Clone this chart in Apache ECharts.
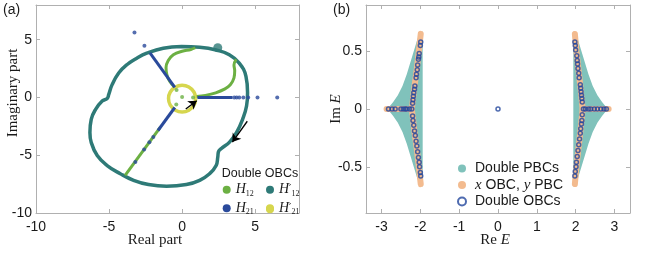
<!DOCTYPE html>
<html><head><meta charset="utf-8">
<script src="https://cdn.jsdelivr.net/npm/echarts@6.0.0/dist/echarts.min.js"></script>
<style>html,body{margin:0;padding:0;background:#fff}#c{width:664px;height:254px}</style>
</head><body><div id="c"></div><script>
// ---------- Panel (a) data ----------
const ticksA = [-10, -5, 0, 5];
const loopH12p = [[-0.04,4.4],[1.2,4.34],[2.33,4.11],[3.23,3.69],[3.91,2.97],[4.37,1.83],[4.48,0.4],[4.41,-0.74],[4.14,-1.89],[3.73,-3.03],[3.23,-3.89],[2.74,-4.37],[2.49,-4.69],[2.44,-5.17],[2.33,-5.89],[1.88,-6.6],[1.2,-7.17],[0.29,-7.54],[-1.06,-7.69],[-2.3,-7.54],[-3.32,-7.17],[-4.23,-6.6],[-5.13,-5.89],[-5.81,-5.03],[-6.22,-3.89],[-6.31,-3.03],[-6.22,-1.89],[-5.92,-1.03],[-5.47,-0.31],[-5.13,-0.09],[-5.02,0.26],[-4.79,1.11],[-4.34,2.11],[-3.78,2.83],[-3.1,3.4],[-2.42,3.83],[-1.29,4.26],[-0.04,4.4]];
const blobH12p = [[2.44,4.3]];
const ringH21p = [[0.93,-0.1],[0.81,0.47],[0.46,0.9],[0,1.05],[-0.46,0.9],[-0.81,0.47],[-0.93,-0.1],[-0.81,-0.67],[-0.46,-1.1],[0,-1.25],[0.46,-1.1],[0.81,-0.67],[0.93,-0.1]];
const greenUpper = [[0.9,4.3],[0.6,4.15],[0.0,4.0],[-0.6,3.7],[-0.95,3.2],[-1.1,2.6],[-1.05,2.0],[-0.85,1.4],[-0.55,0.95]];
const greenRight = [[1.0,0.08],[1.6,0.18],[2.3,0.4],[2.9,0.72],[3.3,1.1],[3.55,1.7],[3.6,2.3],[3.55,2.8],[3.7,3.3]];
const greenRay = [[-1.5,-2.6],[-3.9,-6.75]];
const greenDots = [[-0.38,0.65],[0,0.03],[0.75,0],[-0.4,-0.6]];
const blueRayUL = [[-0.5,0.87],[-2.2,3.85]];
const blueRayR = [[1.05,0],[3.45,0]];
const blueRayLL = [[-0.5,-0.87],[-1.65,-2.86]];
const blueDots = [[-2.58,4.48],[-3.26,5.63],[3.57,0],[3.73,0],[3.91,0],[4.19,0],[4.52,0],[5.16,0],[6.51,0],[-1.97,-3.42],[-2.24,-3.88],[-2.6,-4.5],[-3.2,-5.58]];
const arrowBig = [[4.46,-2.06],[3.44,-3.86]];
const arrowSmall = [[0.25,-1.0],[1.0,-0.28]];

// ---------- Panel (b) data ----------
const ticksBx = [-3, -2, -1, 0, 1, 2, 3];
const ticksBy = [-0.5, 0, 0.5];
const pbcRight = [[1.94,0.67],[1.99,0.66],[2.06,0.6],[2.15,0.5],[2.24,0.4],[2.33,0.3],[2.44,0.2],[2.56,0.12],[2.68,0.06],[2.78,0.02],[2.86,0],[2.78,-0.02],[2.68,-0.06],[2.56,-0.12],[2.44,-0.2],[2.33,-0.3],[2.24,-0.4],[2.15,-0.5],[2.06,-0.6],[1.99,-0.66],[1.94,-0.67]];
const pbcLeft = [[-1.94,0.67],[-2.0,0.66],[-2.08,0.6],[-2.17,0.5],[-2.26,0.4],[-2.35,0.3],[-2.46,0.2],[-2.58,0.12],[-2.7,0.06],[-2.8,0.02],[-2.88,0],[-2.8,-0.02],[-2.7,-0.06],[-2.58,-0.12],[-2.46,-0.2],[-2.35,-0.3],[-2.26,-0.4],[-2.17,-0.5],[-2.08,-0.6],[-2.0,-0.66],[-1.94,-0.67]];
const xobcRight = [[1.98,0.65],[2.02,0.5],[2.07,0.35],[2.12,0.2],[2.18,0],[2.12,-0.2],[2.07,-0.35],[2.02,-0.5],[1.98,-0.65]];
const xobcRightArm = [[2.18,0],[2.85,0]];
const xobcLeft = [[-1.99,0.65],[-2.04,0.5],[-2.09,0.35],[-2.15,0.2],[-2.22,0],[-2.15,-0.2],[-2.09,-0.35],[-2.04,-0.5],[-1.99,-0.65]];
const xobcLeftArm = [[-2.22,0],[-2.87,0]];
const dobc = [
 [1.98,0.58],[1.99,0.55],[2.0,0.51],[2.03,0.46],[2.04,0.42],[2.05,0.39],[2.06,0.35],[2.08,0.31],[2.09,0.27],[2.12,0.21],[2.13,0.18],[2.14,0.15],[2.15,0.12],[2.16,0.09],[2.17,0.06],
 [2.17,-0.05],[2.16,-0.1],[2.15,-0.13],[2.13,-0.17],[2.12,-0.21],[2.1,-0.26],[2.08,-0.31],[2.06,-0.36],[2.04,-0.41],[2.02,-0.46],[2.01,-0.5],[1.99,-0.54],[1.98,-0.58],
 [2.2,0],[2.25,0],[2.33,0],[2.39,0],[2.48,0],[2.56,0],[2.65,0],[2.73,0],[2.79,0],
 [-1.99,0.58],[-2.0,0.55],[-2.03,0.48],[-2.04,0.45],[-2.05,0.43],[-2.07,0.38],[-2.08,0.34],[-2.1,0.3],[-2.11,0.27],[-2.14,0.2],[-2.15,0.17],[-2.17,0.14],[-2.18,0.11],[-2.19,0.08],[-2.2,0.05],
 [-2.2,-0.06],[-2.19,-0.1],[-2.17,-0.14],[-2.15,-0.19],[-2.13,-0.23],[-2.11,-0.28],[-2.09,-0.32],[-2.07,-0.37],[-2.05,-0.42],[-2.03,-0.46],[-2.02,-0.5],[-2.0,-0.55],[-1.99,-0.58],
 [-2.22,0],[-2.28,0],[-2.35,0],[-2.39,0],[-2.44,0],[-2.5,0],[-2.65,0],[-2.73,0],[-2.82,0],
 [0,0]
];

const TEAL = '#2e7a77', GREEN = '#6cb043', BLUE = '#2a4a9b', YEL = '#d6d64e';
const TEAL2 = '#80c2bb', ORANGE = '#f3bb8f', BLUE2 = '#22469c';
const AX = '#b0b0b0';
const SANS = 'Liberation Sans', SERIF = 'Liberation Serif';

function axis(grid, min, max, ticks, pos, lab, isY) {
  return {
    type: 'value', gridIndex: grid, min: min, max: max, position: pos,
    splitLine: {show: false},
    axisLine: {show: true, onZero: false, lineStyle: {color: AX, width: 1}},
    axisTick: {show: true, inside: true, length: 4, customValues: ticks, lineStyle: {color: AX}},
    axisLabel: {show: lab, customValues: ticks, color: '#1a1a1a', fontFamily: SANS, fontSize: 14, margin: isY ? 4 : 7}
  };
}

const richH = {
  h: {fontFamily: SERIF, fontStyle: 'italic', fontSize: 14, color: '#1a1a1a', lineHeight: 16},
  q: {fontFamily: 'DejaVu Sans', fontSize: 10, color: '#1a1a1a', lineHeight: 16},
  s: {fontFamily: SERIF, fontSize: 8, color: '#1a1a1a', lineHeight: 16, verticalAlign: 'bottom'}
};
const hLabel = {H12: '{h|H}{s|12}', H12p: '{h|H}{q|\u2032}{s|12}', H21: '{h|H}{s|21}', H21p: '{h|H}{q|\u2032}{s|21}'};
function legA(name, color, left, top) {
  return {data: [name], icon: 'circle', itemStyle: {color: color, borderWidth: 0}, left: left, top: top, padding: 0,
    itemWidth: 8, itemHeight: 8, selectedMode: false, formatter: n => hLabel[n], textStyle: {rich: richH}};
}

const chart = echarts.init(document.getElementById('c'), null, {renderer: 'canvas'});
const option = {
  animation: false,
  grid: [{left: 36, top: 5, width: 263, height: 208}, {left: 366, top: 5, width: 264, height: 208}],
  xAxis: [axis(0, -10, 8, ticksA, 'bottom', true, false), axis(0, -10, 8, ticksA, 'top', false, false),
          axis(1, -3.4, 3.4, ticksBx, 'bottom', true, false), axis(1, -3.4, 3.4, ticksBx, 'top', false, false)],
  yAxis: [axis(0, -10, 8, ticksA, 'left', true, true), axis(0, -10, 8, ticksA, 'right', false, true),
          axis(1, -0.9, 0.9, ticksBy, 'left', true, true), axis(1, -0.9, 0.9, ticksBy, 'right', false, true)],
  legend: [
    legA('H12', GREEN, 222.7, 182.7), legA('H12p', TEAL, 266, 182.7),
    legA('H21', BLUE, 222.7, 201.3), legA('H21p', YEL, 266, 201.3),
    {orient: 'vertical', left: 457, top: 161.5, padding: 0, itemGap: 2, itemWidth: 16, itemHeight: 8, selectedMode: false,
     data: [{name: 'Double PBCs', icon: 'circle', itemStyle: {color: TEAL2, borderWidth: 0}},
            {name: 'xOBC', icon: 'circle', itemStyle: {color: ORANGE, borderWidth: 0}},
            {name: 'Double OBCs', icon: 'circle', itemStyle: {color: '#fff', borderColor: BLUE2, borderWidth: 2}}],
     formatter: n => n === 'xOBC' ? '{i|x}{t| OBC, }{i|y}{t| PBC}' : '{t|' + n + '}',
     textStyle: {rich: {
       t: {fontFamily: SANS, fontSize: 14, color: '#1a1a1a', lineHeight: 16},
       i: {fontFamily: SERIF, fontStyle: 'italic', fontSize: 15, color: '#1a1a1a', lineHeight: 16}}}}
  ],
  graphic: [
    {type: 'circle', z: 100, shape: {cx: 270, cy: 209.3, r: 4}, style: {fill: YEL}},
    {type: 'text', x: 3, y: 10, style: {text: '(a)', font: '14px "Liberation Sans"', fill: '#1a1a1a', verticalAlign: 'middle'}},
    {type: 'text', x: 333, y: 10, style: {text: '(b)', font: '14px "Liberation Sans"', fill: '#1a1a1a', verticalAlign: 'middle'}},
    {type: 'text', x: 155, y: 240, style: {text: 'Real part', font: '15px "Liberation Serif"', fill: '#1a1a1a', align: 'center', verticalAlign: 'middle'}},
    {type: 'text', x: 13, y: 93, rotation: Math.PI / 2, style: {text: 'Imaginary part', font: '15px "Liberation Serif"', fill: '#1a1a1a', align: 'center', verticalAlign: 'middle'}},
    {type: 'text', x: 495, y: 240, style: {text: '{r|Re }{i|E}', align: 'center', verticalAlign: 'middle',
      rich: {r: {font: '15px "Liberation Serif"', fill: '#1a1a1a'}, i: {font: 'italic 15px "Liberation Serif"', fill: '#1a1a1a'}}}},
    {type: 'text', x: 336, y: 109, rotation: Math.PI / 2, style: {text: '{r|Im }{i|E}', align: 'center', verticalAlign: 'middle',
      rich: {r: {font: '15px "Liberation Serif"', fill: '#1a1a1a'}, i: {font: 'italic 15px "Liberation Serif"', fill: '#1a1a1a'}}}},
    {type: 'text', x: 260, y: 174, style: {text: 'Double OBCs', font: '12.5px "Liberation Sans"', fill: '#1a1a1a', align: 'center', verticalAlign: 'middle'}}
  ],
  series: [
    {name: 'H12p', type: 'line', xAxisIndex: 0, yAxisIndex: 0, data: loopH12p, showSymbol: false, smooth: 0.45, z: 2,
     lineStyle: {color: TEAL, width: 3.5}, itemStyle: {color: TEAL}},
    {name: 'H12p', type: 'scatter', xAxisIndex: 0, yAxisIndex: 0, data: blobH12p, symbolSize: 9, z: 2, itemStyle: {color: TEAL}},
    {name: 'H21p', type: 'line', xAxisIndex: 0, yAxisIndex: 0, data: ringH21p, showSymbol: false, smooth: 0.5, z: 3,
     lineStyle: {color: YEL, width: 3.5}, itemStyle: {color: YEL}},
    {name: 'H12', type: 'line', xAxisIndex: 0, yAxisIndex: 0, data: greenUpper, showSymbol: false, smooth: 0.4, z: 4, lineStyle: {color: GREEN, width: 3}, itemStyle: {color: GREEN}},
    {name: 'H12', type: 'line', xAxisIndex: 0, yAxisIndex: 0, data: greenRight, showSymbol: false, smooth: 0.4, z: 4, lineStyle: {color: GREEN, width: 3}, itemStyle: {color: GREEN}},
    {name: 'H12', type: 'line', xAxisIndex: 0, yAxisIndex: 0, data: greenRay, showSymbol: false, z: 4, lineStyle: {color: GREEN, width: 3}, itemStyle: {color: GREEN}},
    {name: 'H12', type: 'scatter', xAxisIndex: 0, yAxisIndex: 0, data: greenDots, symbolSize: 4, z: 4, itemStyle: {color: GREEN}},
    {name: 'H21', type: 'line', xAxisIndex: 0, yAxisIndex: 0, data: blueRayUL, showSymbol: false, z: 5, lineStyle: {color: BLUE, width: 3}, itemStyle: {color: BLUE}},
    {name: 'H21', type: 'line', xAxisIndex: 0, yAxisIndex: 0, data: blueRayR, showSymbol: false, z: 5, lineStyle: {color: BLUE, width: 3}, itemStyle: {color: BLUE}},
    {name: 'H21', type: 'line', xAxisIndex: 0, yAxisIndex: 0, data: blueRayLL, showSymbol: false, z: 5, lineStyle: {color: BLUE, width: 3}, itemStyle: {color: BLUE}},
    {name: 'H21', type: 'scatter', xAxisIndex: 0, yAxisIndex: 0, data: blueDots, symbolSize: 4, z: 5, itemStyle: {color: BLUE},
     markLine: {silent: true, symbol: ['none', 'arrow'], symbolSize: 8, label: {show: false},
       lineStyle: {color: '#000', width: 1.3, type: 'solid'}, emphasis: {disabled: true},
       data: [[{coord: arrowBig[0], lineStyle: {curveness: 0.15}}, {coord: arrowBig[1]}],
              [{coord: arrowSmall[0], lineStyle: {curveness: -0.3}}, {coord: arrowSmall[1]}]]}},

    {name: 'Double PBCs', type: 'custom', xAxisIndex: 2, yAxisIndex: 2, data: [[0, 0]], z: 2,
     itemStyle: {color: TEAL2},
     renderItem: function (params, api) {
       const mk = arr => ({type: 'polygon', shape: {points: arr.map(p => api.coord(p))}, style: {fill: TEAL2}});
       return {type: 'group', children: [mk(pbcRight), mk(pbcLeft)]};
     }},
    {name: 'xOBC', type: 'line', xAxisIndex: 2, yAxisIndex: 2, data: xobcRight, showSymbol: false, z: 3, lineStyle: {color: ORANGE, width: 6, cap: 'round', join: 'round'}, itemStyle: {color: ORANGE}},
    {name: 'xOBC', type: 'line', xAxisIndex: 2, yAxisIndex: 2, data: xobcRightArm, showSymbol: false, z: 3, lineStyle: {color: ORANGE, width: 6, cap: 'round'}, itemStyle: {color: ORANGE}},
    {name: 'xOBC', type: 'line', xAxisIndex: 2, yAxisIndex: 2, data: xobcLeft, showSymbol: false, z: 3, lineStyle: {color: ORANGE, width: 6, cap: 'round', join: 'round'}, itemStyle: {color: ORANGE}},
    {name: 'xOBC', type: 'line', xAxisIndex: 2, yAxisIndex: 2, data: xobcLeftArm, showSymbol: false, z: 3, lineStyle: {color: ORANGE, width: 6, cap: 'round'}, itemStyle: {color: ORANGE}},
    {name: 'Double OBCs', type: 'scatter', xAxisIndex: 2, yAxisIndex: 2, data: dobc, symbol: 'circle', symbolSize: 4, z: 4,
     itemStyle: {color: 'rgba(255,255,255,0)', borderColor: BLUE2, borderWidth: 1.5}}
  ]
};
chart.setOption(option);
</script></body></html>
